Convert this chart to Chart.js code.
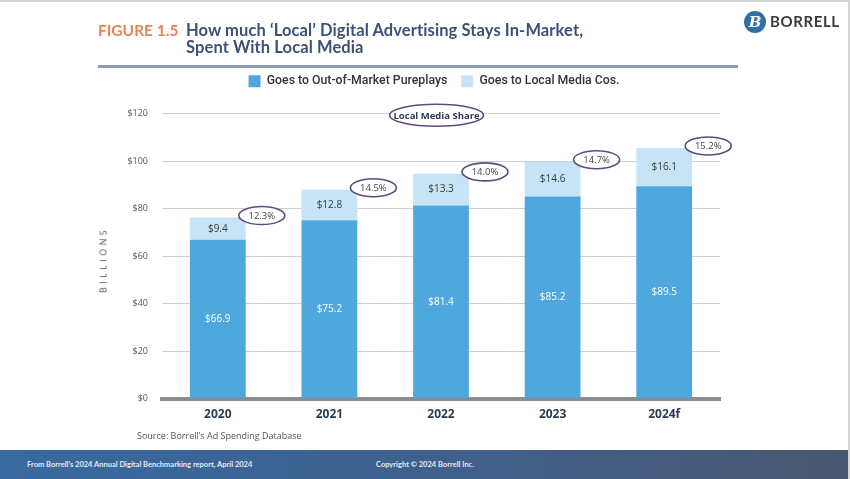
<!DOCTYPE html>
<html lang="en">
<head>
<meta charset="UTF-8">
<title>How much 'Local' Digital Advertising Stays In-Market</title>
<script src="https://cdn.jsdelivr.net/npm/chart.js"></script>
<style>
  html, body { margin: 0; padding: 0; background: #fff; }
  #page { position: relative; width: 850px; height: 479px; overflow: hidden; background: #fff;
          box-sizing: border-box; border-top: 2px solid #d6d6d6; border-right: 2px solid #d6d6d6; }
  #chartBox { position: absolute; left: 0; top: 0; width: 850px; height: 479px; }
  .title { position: absolute; top: 20px; font-family: 'Lato', sans-serif; font-weight: 700; font-size: 16.5px; line-height: 17px; }
  #fig { left: 98px; top: 20px; color: #e8844f; font-size: 15.5px; }
  #headline { left: 186px; color: #3d5078; letter-spacing: 0.1px; }
  #rule { position: absolute; left: 98px; top: 63px; width: 640px; height: 3px; background: #8e9cb8; }
  #logo { position: absolute; left: 744px; top: 9px; width: 22px; height: 22px; border-radius: 50%; background: #2f6fa8;
          color: #fff; font: italic 700 15px 'DejaVu Serif', serif; text-align: center; line-height: 22px; }
  #logoText { position: absolute; left: 770px; top: 10px; font: 700 15px 'Lato', sans-serif; color: #3a3a3a; letter-spacing: 0.6px; }
  #yTitle { position: absolute; left: 103px; top: 258px; transform: translate(-50%, -50%) rotate(-90deg);
            font: 9px 'Open Sans', sans-serif; color: #555; letter-spacing: 3.4px; white-space: nowrap; }
  #source { position: absolute; left: 137px; top: 427px; font: 9px 'Open Sans', sans-serif; color: #555; }
  #footer { position: absolute; left: 0; top: 448px; width: 850px; height: 31px;
            background: linear-gradient(90deg, #386aa0 0%, #3e6190 45%, #48576f 100%); }
  .foot { position: absolute; top: 10px; font: 700 7.5px 'Lato', sans-serif; color: #e4eaf2; }
</style>
</head>
<body>
<div id="page">
  <div id="chartBox"><canvas id="localChart"></canvas></div>
  <div class="title" id="fig">FIGURE 1.5</div>
  <div class="title" id="headline">How much ‘Local’ Digital Advertising Stays In-Market,<br>Spent With Local Media</div>
  <div id="rule"></div>
  <div id="logo">B</div>
  <div id="logoText">BORRELL</div>
  <div id="yTitle">BILLIONS</div>
  <div id="source">Source: Borrell’s Ad Spending Database</div>
  <div id="footer">
    <div class="foot" style="left:27px">From Borrell’s 2024 Annual Digital Benchmarking report, April 2024</div>
    <div class="foot" style="left:376px">Copyright © 2024 Borrell Inc.</div>
  </div>
</div>

<script>
  // values (billions of dollars)
  const years = ['2020', '2021', '2022', '2023', '2024f'];
  const outOfMarket = [66.9, 75.2, 81.4, 85.2, 89.5];
  const localMedia = [9.4, 12.8, 13.3, 14.6, 16.1];
  const localShare = [12.3, 14.5, 14.0, 14.7, 15.2];
  const yTicks = [0, 20, 40, 60, 80, 100, 120];

  function ellipse(ctx, x, y, rx, ry, text, font, color) {
    ctx.save();
    ctx.beginPath();
    ctx.ellipse(x, y, rx, ry, 0, 0, Math.PI * 2);
    ctx.fillStyle = '#fff';
    ctx.fill();
    ctx.lineWidth = 1.6;
    ctx.strokeStyle = '#5e4b7e';
    ctx.stroke();
    ctx.font = font;
    ctx.fillStyle = color;
    ctx.textAlign = 'center';
    ctx.textBaseline = 'middle';
    ctx.fillText(text, x, y + 0.5);
    ctx.restore();
  }

  // extra room under the legend, and nudge it right a little
  const legendGap = {
    id: 'legendGap',
    beforeInit(chart) {
      const fit = chart.legend.fit;
      chart.legend.fit = function () {
        fit.bind(chart.legend)();
        this.height += 16.5;
      };
    },
    afterLayout(chart) {
      chart.legend.left += 10;
      chart.legend.right += 10;
    }
  };

  // segment values + share ellipses
  const barLabels = {
    id: 'barLabels',
    afterDatasetsDraw(chart) {
      const ctx = chart.ctx;
      ctx.save();
      ctx.font = '10px "Open Sans", sans-serif';
      ctx.textAlign = 'center';
      ctx.textBaseline = 'middle';
      chart.data.datasets.forEach((ds, i) => {
        chart.getDatasetMeta(i).data.forEach((bar, j) => {
          ctx.fillStyle = i === 0 ? '#ffffff' : '#3a3a3a';
          ctx.fillText('$' + ds.data[j].toFixed(1), bar.x, (bar.y + bar.base) / 2);
        });
      });
      ctx.restore();

      const top = chart.getDatasetMeta(1).data;
      top.forEach((bar, j) => {
        ellipse(ctx, bar.x + 44, bar.y - 2, 23, 9, localShare[j].toFixed(1) + '%', '9.5px "Open Sans", sans-serif', '#444');
      });

      const xs = chart.scales.x, ys = chart.scales.y;
      ellipse(ctx, xs.getPixelForValue(1.96), ys.getPixelForValue(120) + 1.5, 47, 11,
        'Local Media Share', 'bold 9.5px "Open Sans", sans-serif', '#2d3a55');
    }
  };

  new Chart(document.getElementById('localChart'), {
    type: 'bar',
    data: {
      labels: years,
      datasets: [
        { label: 'Goes to Out-of-Market Pureplays', data: outOfMarket, backgroundColor: '#4ea8de' },
        { label: 'Goes to Local Media Cos.', data: localMedia, backgroundColor: '#c6e4f6' }
      ]
    },
    options: {
      responsive: true,
      maintainAspectRatio: false,
      animation: false,
      layout: { padding: { top: 59, left: 128, right: 130, bottom: 58 } },
      datasets: { bar: { categoryPercentage: 1, barPercentage: 0.5 } },
      plugins: {
        legend: {
          position: 'top',
          labels: {
            boxWidth: 12, boxHeight: 12, padding: 14, color: '#333',
            font: { family: 'Roboto', size: 12.3, weight: '500' }
          }
        },
        tooltip: { enabled: false }
      },
      scales: {
        x: {
          stacked: true,
          grid: { display: false },
          border: { color: '#8c8c8c', width: 4 },
          ticks: { color: '#2b3a55', padding: 1, font: { family: 'Open Sans', size: 12, weight: 'bold' } }
        },
        y: {
          stacked: true,
          min: 0, max: 120,
          afterFit(scale) { scale.width = 34; },
          afterBuildTicks(scale) { scale.ticks = yTicks.map(v => ({ value: v })); },
          grid: { color: '#cfcfcf', lineWidth: 1, drawTicks: false },
          border: { display: false },
          ticks: {
            color: '#555', padding: 14,
            font: { family: 'Open Sans', size: 9 },
            callback: v => '$' + v
          }
        }
      }
    },
    plugins: [legendGap, barLabels]
  });
</script>
</body>
</html>
